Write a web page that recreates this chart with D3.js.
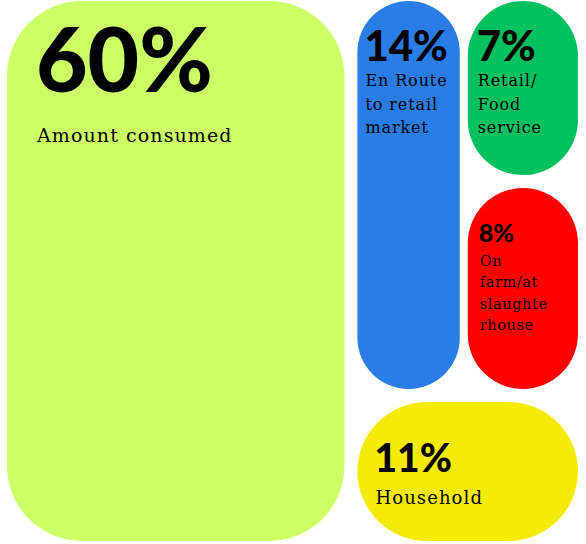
<!DOCTYPE html>
<html>
<head>
<meta charset="utf-8">
<script src="https://cdn.jsdelivr.net/npm/d3@7"></script>
<style>
  body { margin: 0; background: #fff; }
  svg { display: block; }
</style>
</head>
<body>
<svg id="drawing_region" width="586" height="544"></svg>
<script>
// data
var categories = ["Amount consumed", "En Route\nto retail\nmarket", "Retail/\nFood\nservice", "On\nfarm/at\nslaughte\nrhouse", "Household"];
var values = [60, 14, 7, 8, 11];
var colors = ["#ccff66", "#2a7de6", "#00c060", "#ff0000", "#f6eb08"];

// text style for each cell (index order as above)
var styles = [
    { num: 89, lab: 19, dx: 29, numY: 91, labY: 141, lh: 0,  ls: 1.1 },
    { num: 42, lab: 16, dx: 7,  numY: 60, labY: 85,  lh: 23.5, ls: 0.9 },
    { num: 42, lab: 16, dx: 9,  numY: 60, labY: 85,  lh: 23.5, ls: 0.9 },
    { num: 25, lab: 14.5, dx: 11, numY: 54, labY: 78,  lh: 21.3, ls: 0.6 },
    { num: 39, lab: 18, dx: 17, numY: 70, labY: 102, lh: 0,  ls: 1.1 }
];

var width = 586;
var height = 544;
var margin = { top: 1, right: 8, bottom: 3, left: 7 };

var svg = d3.select('#drawing_region');
var chart = svg.append('g')
    .attr('transform', `translate(${margin.left}, ${margin.top})`);

const inner_width = width - margin.left - margin.right;
const inner_height = height - margin.top - margin.bottom;

// nesting: 60 | ( (14 | (7 / 8)) / 11 )
var leaf = i => ({ i: i, name: categories[i], value: values[i] });
var tree = {
    children: [
        leaf(0),
        { children: [
            { children: [ leaf(1), { children: [ leaf(2), leaf(3) ] } ] },
            leaf(4)
        ] }
    ]
};

var root = d3.hierarchy(tree).sum(d => d.children ? 0 : d.value);

d3.treemap()
    .tile(d3.treemapSliceDice)
    .size([inner_width, inner_height])
    .paddingInner(d => d.depth == 2 ? 8 : 13)
    (root);

var cells = chart.selectAll('g.cell')
    .data(root.leaves())
    .join('g')
    .attr('class', 'cell')
    .attr('transform', d => `translate(${d.x0}, ${d.y0})`);

cells.append('rect')
    .attr('width', d => d.x1 - d.x0)
    .attr('height', d => d.y1 - d.y0)
    .attr('rx', d => Math.min(75, (d.x1 - d.x0) / 2, (d.y1 - d.y0) / 2))
    .attr('fill', d => colors[d.data.i]);

cells.append('text')
    .attr('x', d => styles[d.data.i].dx)
    .attr('y', d => styles[d.data.i].numY)
    .attr('font-family', 'Lato, sans-serif')
    .attr('font-weight', 900)
    .attr('font-size', d => styles[d.data.i].num)
    .attr('fill', '#000')
    .text(d => d.data.value + '%');

var labels = cells.append('text')
    .attr('font-family', '"DejaVu Serif", serif')
    .attr('font-size', d => styles[d.data.i].lab)
    .attr('letter-spacing', d => styles[d.data.i].ls)
    .attr('fill', '#000');

labels.selectAll('tspan')
    .data(d => d.data.name.split('\n').map((t, k) => ({ t: t, k: k, s: styles[d.data.i] })))
    .join('tspan')
    .attr('x', d => d.s.dx + 1)
    .attr('y', d => d.s.labY + d.k * d.s.lh)
    .text(d => d.t);
</script>
</body>
</html>
